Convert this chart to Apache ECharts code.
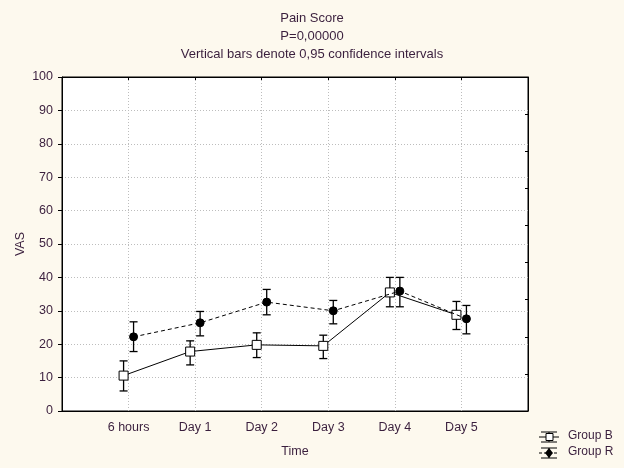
<!DOCTYPE html>
<html>
<head>
<meta charset="utf-8">
<script src="https://cdn.jsdelivr.net/npm/echarts@6/dist/echarts.min.js"></script>
<style>
html,body{margin:0;padding:0;background:#fdf9ee;}
#chart{width:624px;height:468px;}
</style>
</head>
<body>
<div id="chart"></div>
<script>
var categories = ['6 hours', 'Day 1', 'Day 2', 'Day 3', 'Day 4', 'Day 5'];
var groupBMean = [10.6, 17.8, 19.8, 19.5, 35.5, 28.8];
var groupBLow  = [6.0, 13.8, 16.0, 15.7, 31.2, 24.4];
var groupBHigh = [15.0, 21.0, 23.4, 22.7, 40.0, 32.8];
var groupRMean = [22.2, 26.4, 32.6, 30.0, 35.9, 27.6];
var groupRLow  = [17.8, 22.5, 28.8, 26.1, 31.2, 23.1];
var groupRHigh = [26.7, 29.8, 36.4, 33.1, 40.0, 31.6];
var yTicks = [0, 10, 20, 30, 40, 50, 60, 70, 80, 90, 100];

var TEXT = '#3a1f3d';
var OFF = 0.075;
var FONT = 'Liberation Sans, Arial, sans-serif';

function pts(vals, off) { return vals.map(function (v, i) { return [i + 1 + off, v]; }); }
function bars(lo, hi, off) { return lo.map(function (l, i) { return [i + 1 + off, l, hi[i]]; }); }

function errRender(params, api) {
  var x = api.value(0);
  var p1 = api.coord([x, api.value(1)]);
  var p2 = api.coord([x, api.value(2)]);
  var w = 4;
  var st = { stroke: '#000', lineWidth: 1.3 };
  return {
    type: 'group',
    children: [
      { type: 'line', shape: { x1: p1[0], y1: p1[1], x2: p2[0], y2: p2[1] }, style: st },
      { type: 'line', shape: { x1: p1[0] - w, y1: p1[1], x2: p1[0] + w, y2: p1[1] }, style: st },
      { type: 'line', shape: { x1: p2[0] - w, y1: p2[1], x2: p2[0] + w, y2: p2[1] }, style: st }
    ]
  };
}

function legendIcon(x, y, filled) {
  var st = { stroke: '#000', lineWidth: 1 };
  var dashSt = { stroke: '#000', lineWidth: 1, lineDash: filled ? [3, 2] : null };
  var children = [
    { type: 'line', shape: { x1: x, y1: y, x2: x + 20, y2: y }, style: dashSt },
    { type: 'line', shape: { x1: x + 2, y1: y - 5, x2: x + 18, y2: y - 5 }, style: st },
    { type: 'line', shape: { x1: x + 2, y1: y + 5, x2: x + 18, y2: y + 5 }, style: st },
    { type: 'line', shape: { x1: x + 10, y1: y - 5, x2: x + 10, y2: y + 5 }, style: st }
  ];
  if (filled) {
    children.push({ type: 'polygon', shape: { points: [[x + 10, y - 5], [x + 14, y], [x + 10, y + 5], [x + 6, y]] }, style: { fill: '#000' } });
  } else {
    children.push({ type: 'rect', shape: { x: x + 7, y: y - 3.5, width: 7, height: 7 }, style: { fill: '#fff', stroke: '#000', lineWidth: 1 } });
  }
  return { type: 'group', children: children };
}

var chart = echarts.init(document.getElementById('chart'));
chart.setOption({
  backgroundColor: '#fdf9ee',
  animation: false,
  textStyle: { fontFamily: FONT },
  title: {
    text: 'Pain Score\nP=0,00000\nVertical bars denote 0,95 confidence intervals',
    left: 'center',
    top: 4,
    textStyle: { fontSize: 13, fontWeight: 'normal', color: TEXT, lineHeight: 18, fontFamily: FONT }
  },
  grid: { left: 62, right: 96, top: 77, bottom: 57, show: true, backgroundColor: '#fff', borderColor: '#000', borderWidth: 1 },
  xAxis: [{
    type: 'value', min: 0, max: 7, interval: 1,
    name: 'Time', nameLocation: 'middle', nameGap: 34,
    nameTextStyle: { color: TEXT, fontSize: 12.5, fontFamily: FONT },
    axisLine: { show: true, onZero: false, lineStyle: { color: '#000', width: 1 } },
    axisTick: { show: false },
    axisLabel: { color: TEXT, fontSize: 12.5, margin: 10, fontFamily: FONT,
      formatter: function (v) { return categories[v - 1] || ''; } },
    splitLine: { show: true, lineStyle: { color: '#bdbdbd', type: [1, 2], width: 1 } }
  }, {
    type: 'value', min: 0, max: 7, interval: 1, position: 'top',
    axisLine: { show: true, onZero: false, lineStyle: { color: '#000' } },
    axisTick: { show: true, inside: true, length: 3, lineStyle: { color: '#000' } },
    axisLabel: { show: false }, splitLine: { show: false }
  }],
  yAxis: [{
    type: 'value', min: 0, max: 100, interval: 10,
    name: 'VAS', nameLocation: 'middle', nameGap: 35, nameMoveOverlap: false,
    nameTextStyle: { color: TEXT, fontSize: 12.5, fontFamily: FONT },
    axisLine: { show: true, onZero: false, lineStyle: { color: '#000', width: 1 } },
    axisTick: { show: true, length: 4, lineStyle: { color: '#000' } },
    axisLabel: { color: TEXT, fontSize: 12.5, margin: 9, fontFamily: FONT,
      formatter: function (v) { return yTicks.indexOf(v) >= 0 ? String(v) : ''; } },
    splitLine: { show: true, lineStyle: { color: '#bdbdbd', type: [1, 2], width: 1 } }
  }, {
    type: 'value', min: 0, max: 9, interval: 1, position: 'right',
    axisLine: { show: true, onZero: false, lineStyle: { color: '#000' } },
    axisTick: { show: true, inside: true, length: 3, lineStyle: { color: '#000' } },
    axisLabel: { show: false }, splitLine: { show: false }
  }],
  series: [
    { name: 'Group B CI', type: 'custom', renderItem: errRender, data: bars(groupBLow, groupBHigh, -OFF), z: 2,
      encode: { x: 0, y: [1, 2] } },
    { name: 'Group R CI', type: 'custom', renderItem: errRender, data: bars(groupRLow, groupRHigh, OFF), z: 2,
      encode: { x: 0, y: [1, 2] } },
    { name: 'Group B', type: 'line', data: pts(groupBMean, -OFF), z: 3,
      symbol: 'rect', symbolSize: 9, showAllSymbol: true,
      lineStyle: { color: '#000', width: 1 },
      itemStyle: { color: '#fff', borderColor: '#000', borderWidth: 1 } },
    { name: 'Group R', type: 'line', data: pts(groupRMean, OFF), z: 4,
      symbol: 'circle', symbolSize: 8, showAllSymbol: true,
      lineStyle: { color: '#000', width: 1, type: [4, 3] },
      itemStyle: { color: '#000', borderColor: '#000', borderWidth: 1 } }
  ],
  graphic: [
    legendIcon(539, 437, false),
    legendIcon(539, 453, true),
    { type: 'text', left: 568, top: 430, style: { text: 'Group B', fill: TEXT, font: '12px ' + FONT } },
    { type: 'text', left: 568, top: 446, style: { text: 'Group R', fill: TEXT, font: '12px ' + FONT } }
  ]
});
</script>
</body>
</html>
